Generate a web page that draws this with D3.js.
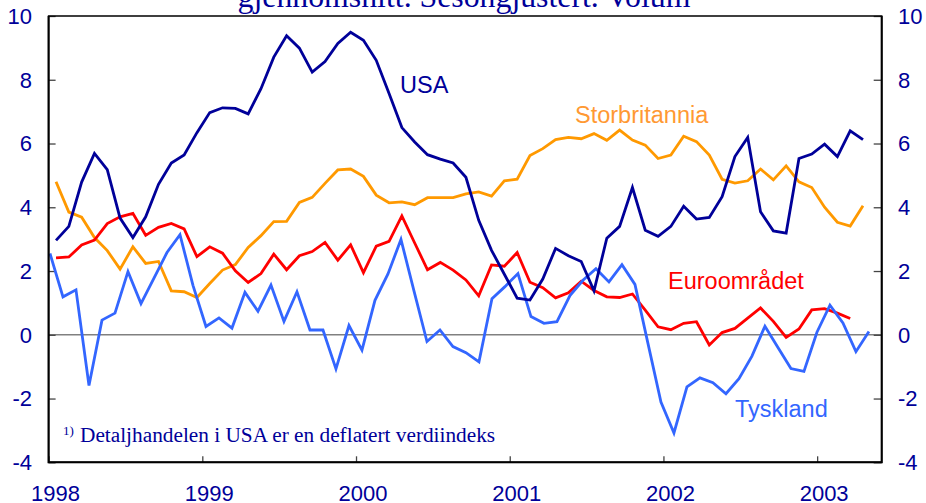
<!DOCTYPE html>
<html>
<head>
<meta charset="utf-8">
<script src="https://cdn.jsdelivr.net/npm/d3@7"></script>
<style>
  body { margin: 0; background: #fff; }
  svg { display: block; }
</style>
</head>
<body>
<svg width="926" height="503"></svg>
<script>
// monthly values, Jan 1998 onwards (per cent)
const usa = [2.96, 3.40, 4.79, 5.69, 5.18, 3.66, 3.05, 3.70, 4.72, 5.39, 5.64, 6.34,
  6.97, 7.12, 7.10, 6.93, 7.72, 8.71, 9.38, 8.99, 8.24, 8.57, 9.14, 9.49,
  9.24, 8.61, 7.57, 6.50, 6.05, 5.65, 5.51, 5.39, 4.94, 3.59, 2.65, 1.90,
  1.15, 1.09, 1.75, 2.71, 2.48, 2.30, 1.38, 3.03, 3.40, 4.62, 3.28, 3.09,
  3.40, 4.03, 3.63, 3.68, 4.33, 5.59, 6.19, 3.86, 3.26, 3.19, 5.53, 5.67,
  5.98, 5.59, 6.40, 6.12];
const storbritannia = [4.80, 3.85, 3.69, 3.05, 2.64, 2.06, 2.76, 2.24, 2.30, 1.38, 1.35, 1.17,
  1.61, 2.03, 2.20, 2.74, 3.11, 3.55, 3.56, 4.15, 4.31, 4.75, 5.17, 5.20,
  4.97, 4.38, 4.14, 4.17, 4.08, 4.30, 4.30, 4.30, 4.42, 4.48, 4.35, 4.83,
  4.88, 5.62, 5.84, 6.12, 6.19, 6.15, 6.31, 6.10, 6.42, 6.11, 5.95, 5.53,
  5.64, 6.23, 6.06, 5.64, 4.88, 4.76, 4.83, 5.20, 4.86, 5.30, 4.80, 4.62,
  4.00, 3.53, 3.41, 4.05];
const euroomradet = [2.41, 2.44, 2.82, 2.97, 3.49, 3.70, 3.81, 3.12, 3.37, 3.49, 3.32, 2.45,
  2.76, 2.56, 2.01, 1.64, 1.92, 2.53, 2.04, 2.48, 2.61, 2.90, 2.34, 2.82,
  1.95, 2.78, 2.93, 3.73, 2.88, 2.04, 2.27, 2.03, 1.72, 1.22, 2.19, 2.15,
  2.58, 1.65, 1.48, 1.16, 1.32, 1.68, 1.39, 1.19, 1.17, 1.28, 0.77, 0.25,
  0.16, 0.36, 0.41, -0.32, 0.07, 0.20, 0.52, 0.84, 0.42, -0.08, 0.18, 0.78,
  0.82, 0.68, 0.51];
const tyskland = [2.55, 1.19, 1.41, -1.59, 0.46, 0.68, 1.98, 0.98, 1.78, 2.58, 3.14, 1.55,
  0.26, 0.53, 0.21, 1.33, 0.74, 1.56, 0.42, 1.35, 0.15, 0.15, -1.07, 0.29,
  -0.48, 1.08, 1.91, 2.99, 1.38, -0.21, 0.15, -0.37, -0.56, -0.85, 1.13, 1.51,
  1.92, 0.57, 0.36, 0.41, 1.23, 1.71, 2.07, 1.66, 2.20, 1.58, -0.27, -2.11,
  -3.08, -1.63, -1.35, -1.50, -1.85, -1.38, -0.67, 0.27, -0.40, -1.06, -1.15, 0.08,
  0.93, 0.37, -0.53, 0.10];

const years = [1998, 1999, 2000, 2001, 2002, 2003];
const yTicks = [-4, -2, 0, 2, 4, 6, 8, 10];

const navy = "#000099";
const svg = d3.select("svg");

var x = d3.scaleLinear().domain([1998, 2003.42]).range([48.6, 881.7]);
var y = d3.scaleLinear().domain([-4, 10]).range([462.3, 16]);

// month index -> position in years (mid month)
function monthPos(i) {
  return 1998 + (i + 0.58) / 12;
}
// Germany is drawn on its own index axis in the original
var tyskPos = d3.scaleLinear().domain([0, 63]).range([1998.009, 2003.337]);

const x0 = x.range()[0], x1 = x.range()[1];
const yTop = y.range()[1], yBot = y.range()[0];

// title (only the bottom of it shows)
svg.append("text")
  .attr("x", 464)
  .attr("y", 6.5)
  .attr("text-anchor", "middle")
  .attr("font-family", "Liberation Serif, Times New Roman, serif")
  .attr("font-size", 31.8)
  .attr("fill", navy)
  .text("gjennomsnitt. Sesongjustert. Volum");

// zero line
svg.append("line")
  .attr("x1", x0).attr("x2", x1)
  .attr("y1", y(0)).attr("y2", y(0))
  .attr("stroke", "#808080")
  .attr("stroke-width", 1.6);

// ticks
svg.append("g").attr("transform", "translate(" + x0 + ",0)")
  .call(d3.axisRight(y).tickValues(yTicks).tickSize(7).tickFormat(""))
  .call(g => g.select(".domain").remove())
  .selectAll("line").attr("stroke", "#444").attr("stroke-width", 1.3);
svg.append("g").attr("transform", "translate(" + x1 + ",0)")
  .call(d3.axisLeft(y).tickValues(yTicks).tickSize(8).tickFormat(""))
  .call(g => g.select(".domain").remove())
  .selectAll("line").attr("stroke", "#444").attr("stroke-width", 1.3);
svg.append("g").attr("transform", "translate(0," + yBot + ")")
  .call(d3.axisTop(x).tickValues(years).tickSize(6).tickFormat(""))
  .call(g => g.select(".domain").remove())
  .selectAll("line").attr("stroke", "#444").attr("stroke-width", 1.3);

// tick labels
const tickFont = "Liberation Sans, Arial, sans-serif";
svg.append("g").selectAll("text")
  .data(yTicks).enter().append("text")
  .attr("x", 32)
  .attr("y", d => y(d))
  .attr("dy", "0.36em")
  .attr("text-anchor", "end")
  .attr("font-family", tickFont)
  .attr("font-size", 22)
  .attr("fill", navy)
  .text(d => d);
svg.append("g").selectAll("text")
  .data(yTicks).enter().append("text")
  .attr("x", 898)
  .attr("y", d => y(d))
  .attr("dy", "0.36em")
  .attr("text-anchor", "start")
  .attr("font-family", tickFont)
  .attr("font-size", 22)
  .attr("fill", navy)
  .text(d => d);
svg.append("g").selectAll("text")
  .data(years).enter().append("text")
  .attr("x", d => x(d) + 7)
  .attr("y", 500.5)
  .attr("text-anchor", "middle")
  .attr("font-family", tickFont)
  .attr("font-size", 22)
  .attr("fill", navy)
  .text(d => d);

// series
const series = [
  { name: "Storbritannia", values: storbritannia, color: "#FF9900", pos: monthPos },
  { name: "Euroområdet", values: euroomradet, color: "#FF0000", pos: monthPos },
  { name: "Tyskland", values: tyskland, color: "#3366FF", pos: tyskPos },
  { name: "USA", values: usa, color: navy, pos: monthPos }
];

series.forEach(function (s) {
  var line = d3.line()
    .x((d, i) => x(s.pos(i)))
    .y(d => y(d));
  svg.append("path")
    .datum(s.values)
    .attr("fill", "none")
    .attr("stroke", s.color)
    .attr("stroke-width", 2.8)
    .attr("stroke-linejoin", "miter")
    .attr("d", line);
});

// frame
svg.append("rect")
  .attr("x", x0).attr("y", yTop)
  .attr("width", x1 - x0).attr("height", yBot - yTop)
  .attr("fill", "none")
  .attr("stroke", "#000")
  .attr("stroke-width", 1.5);
svg.append("path")
  .attr("d", "M" + x0 + "," + yTop + "V" + yBot + "H" + x1 + "V" + yTop)
  .attr("fill", "none")
  .attr("stroke", "#000")
  .attr("stroke-width", 2);

// series labels
const labelFont = "Liberation Sans, Arial, sans-serif";
const labels = [
  { text: "USA", x: 400, y: 92.5, color: navy },
  { text: "Storbritannia", x: 575, y: 123, color: "#FF9933" },
  { text: "Euroområdet", x: 668, y: 289, color: "#FF0000" },
  { text: "Tyskland", x: 735, y: 416.5, color: "#3366FF" }
];
svg.append("g").selectAll("text")
  .data(labels).enter().append("text")
  .attr("x", d => d.x)
  .attr("y", d => d.y)
  .attr("font-family", labelFont)
  .attr("font-size", 23.5)
  .attr("fill", d => d.color)
  .text(d => d.text);

// footnote
var note = svg.append("text")
  .attr("x", 63)
  .attr("y", 441.5)
  .attr("font-family", "Liberation Serif, Times New Roman, serif")
  .attr("fill", navy);
note.append("tspan")
  .attr("font-size", 13)
  .attr("dy", -7)
  .text("1)");
note.append("tspan")
  .attr("x", 80)
  .attr("dy", 7)
  .attr("font-size", 21.3)
  .text("Detaljhandelen i USA er en deflatert verdiindeks");
</script>
</body>
</html>
